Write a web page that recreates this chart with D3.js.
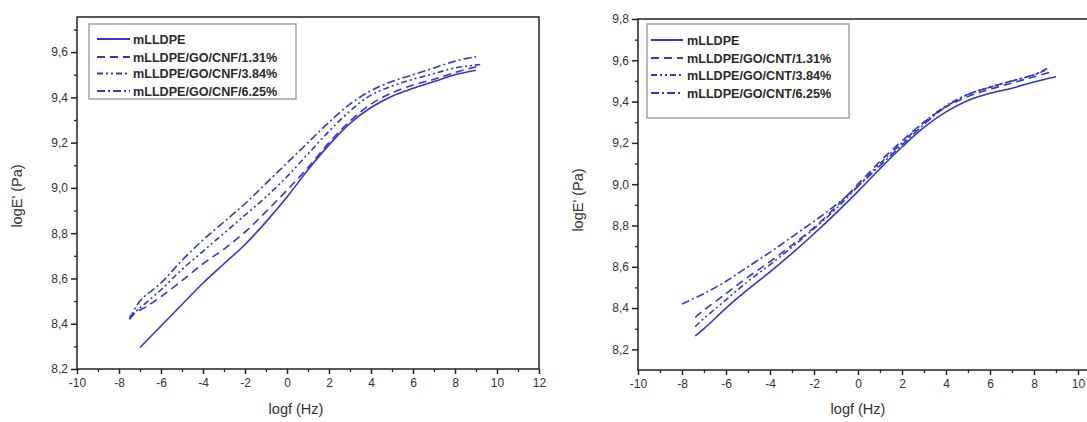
<!DOCTYPE html>
<html><head><meta charset="utf-8">
<script src="https://cdn.jsdelivr.net/npm/d3@7"></script>
<style>
body{margin:0;background:#fff;}
svg{display:block;font-family:"Liberation Sans",Arial,sans-serif;}
.tick text{fill:#333;font-size:12px;}
</style></head><body>
<svg id="c" width="1087" height="422"></svg>
<script>
// ---------- data (logf Hz, logE' Pa) ----------
const xTicks = [-10,-8,-6,-4,-2,0,2,4,6,8,10,12];

// Left panel (GO/CNF)
const cnfNames = ["mLLDPE","mLLDPE/GO/CNF/1.31%","mLLDPE/GO/CNF/3.84%","mLLDPE/GO/CNF/6.25%"];
const cnfX0   = [-7,-6,-5,-4,-3,-2,-1,0,1,2,3,4,5,6,7,8,9];
const cnfY0   = [8.295,8.39,8.485,8.58,8.665,8.75,8.85,8.96,9.08,9.19,9.285,9.355,9.405,9.44,9.47,9.50,9.52];
const cnfX1   = [-7.5,-7.2,-6.7,-6,-5,-4,-3,-2,-1,0,1,2,3,4,5,6,7,8,9.2];
const cnfY1   = [8.42,8.45,8.475,8.52,8.59,8.665,8.73,8.805,8.895,8.99,9.09,9.20,9.295,9.37,9.42,9.455,9.48,9.51,9.54];
const cnfX2   = [-7.5,-7,-6,-5,-4,-3,-2,-1,0,1,2,3,4,5,6,7,8,9.2];
const cnfY2   = [8.43,8.47,8.55,8.64,8.72,8.80,8.88,8.96,9.05,9.15,9.25,9.34,9.41,9.45,9.48,9.505,9.53,9.545];
const cnfX3   = [-7.5,-7,-6,-5,-4,-3,-2,-1,0,1,2,3,4,5,6,7,8,9];
const cnfY3   = [8.42,8.50,8.58,8.68,8.77,8.85,8.93,9.02,9.11,9.20,9.29,9.37,9.43,9.47,9.50,9.53,9.56,9.58];

// Right panel (GO/CNT)
const cntNames = ["mLLDPE","mLLDPE/GO/CNT/1.31%","mLLDPE/GO/CNT/3.84%","mLLDPE/GO/CNT/6.25%"];
const cntX0   = [-7.4,-7,-6,-5,-4,-3,-2,-1,0,1,2,3,4,5,6,7,8,9];
const cntY0   = [8.265,8.30,8.40,8.49,8.575,8.665,8.76,8.86,8.965,9.075,9.18,9.275,9.35,9.405,9.44,9.465,9.495,9.52];
const cntX1   = [-7.4,-7,-6,-5,-4,-3,-2,-1,0,1,2,3,4,5,6,7,8,8.8];
const cntY1   = [8.355,8.39,8.47,8.55,8.625,8.705,8.79,8.89,9.00,9.11,9.21,9.30,9.375,9.425,9.46,9.49,9.52,9.545];
const cntX2   = [-7.4,-7,-6,-5,-4,-3,-2,-1,0,1,2,3,4,5,6,7,8,8.6];
const cntY2   = [8.31,8.35,8.44,8.53,8.61,8.695,8.785,8.88,8.99,9.10,9.20,9.30,9.38,9.435,9.47,9.50,9.53,9.56];
const cntX3   = [-8,-7,-6,-5,-4,-3,-2,-1,0,1,2,3,4,5,6,7,8,8.5];
const cntY3   = [8.42,8.47,8.53,8.60,8.67,8.745,8.82,8.90,8.99,9.09,9.19,9.29,9.375,9.435,9.47,9.50,9.53,9.55];

const leftYTicks  = [8.2,8.4,8.6,8.8,9.0,9.2,9.4,9.6];
const rightYTicks = [8.2,8.4,8.6,8.8,9.0,9.2,9.4,9.6,9.8];

// ---------- drawing ----------
const svg = d3.select("#c");
const W = 1087;
const blue = "#3535d2";
const dashes = [null, "8,5", "6,3,2,3,2,3", "8,3,2,3"];

function panel(o){
  const g = svg.append("g");
  const x = d3.scaleLinear().domain([-10,12]).range([o.x0,o.x1]);
  const y = d3.scaleLinear().domain(o.yDom).range([o.yB,o.yT]);
  const fmt = v => d3.format(".1f")(v).replace(".",",");
  const xfmt = v => String(v);
  const visible = v => x(v) <= W - 4;

  // frame
  g.append("rect").attr("x",o.x0).attr("y",o.yT).attr("width",o.x1-o.x0).attr("height",o.yB-o.yT)
    .attr("fill","none").attr("stroke","#222").attr("stroke-width",1.5);

  // minor ticks
  const xMinor = d3.range(-9,12,2).filter(visible);
  const yMinor = d3.range(Math.round(o.yDom[0]*10)+1, Math.floor(o.yDom[1]*10+1e-6)+1).map(v=>v/10)
        .filter(v=>!o.yTicks.some(t=>Math.abs(t-v)<1e-6));
  g.append("g").attr("transform",`translate(0,${o.yB})`)
    .call(d3.axisBottom(x).tickValues(xMinor).tickSize(3).tickFormat(""))
    .call(a=>a.select(".domain").remove())
    .selectAll("line").attr("stroke","#222").attr("stroke-width",1.3);
  g.append("g").attr("transform",`translate(${o.x0},0)`)
    .call(d3.axisLeft(y).tickValues(yMinor).tickSize(3).tickFormat(""))
    .call(a=>a.select(".domain").remove())
    .selectAll("line").attr("stroke","#222").attr("stroke-width",1.3);

  // major axes
  const ax = g.append("g").attr("transform",`translate(0,${o.yB})`)
    .call(d3.axisBottom(x).tickValues(xTicks.filter(visible)).tickSize(5).tickPadding(4).tickFormat(xfmt));
  ax.select(".domain").remove();
  ax.selectAll("line").attr("stroke","#222").attr("stroke-width",1.5);
  const ay = g.append("g").attr("transform",`translate(${o.x0},0)`)
    .call(d3.axisLeft(y).tickValues(o.yTicks).tickSize(6).tickPadding(3).tickFormat(fmt));
  ay.select(".domain").remove();
  ay.selectAll("line").attr("stroke","#222").attr("stroke-width",1.5);
  g.selectAll(".tick text").attr("font-family","'Liberation Sans',Arial,sans-serif");

  // titles
  g.append("text").attr("x",o.xt).attr("y",414).attr("text-anchor","middle")
    .attr("font-size",14.5).attr("fill","#333").text("logf (Hz)");
  g.append("text").attr("transform",`translate(${o.yl},${o.ylc}) rotate(-90)`).attr("text-anchor","middle")
    .attr("font-size",14.5).attr("fill","#333").text("logE' (Pa)");

  // curves
  const line = d3.line().x(d=>x(d[0])).y(d=>y(d[1])).curve(d3.curveCatmullRom.alpha(0.5));
  o.series.forEach((s,i)=>{
    const pts = s[0].map((v,k)=>[v,s[1][k]]);
    g.append("path").attr("d",line(pts)).attr("fill","none").attr("stroke",blue)
      .attr("stroke-width",1.6).attr("stroke-dasharray",dashes[i]);
  });

  // legend
  const L = o.leg;
  g.append("rect").attr("x",L.x).attr("y",L.y).attr("width",L.w).attr("height",L.h)
    .attr("fill","#fff").attr("stroke","#8a8a8a").attr("stroke-width",1.2);
  o.names.forEach((n,i)=>{
    const yy = L.ys[i];
    g.append("line").attr("x1",L.lx0).attr("x2",L.lx1).attr("y1",yy).attr("y2",yy)
      .attr("stroke",blue).attr("stroke-width",2).attr("stroke-dasharray",dashes[i]);
    g.append("text").attr("x",L.tx).attr("y",yy+4.5).attr("font-size",12.6).attr("font-weight","bold")
      .attr("fill","#2a2a2a").text(n);
  });
}

panel({x0:77,x1:539,yT:17,yB:369,yDom:[8.2,9.755],yTicks:leftYTicks,xt:296,yl:22,ylc:196,
  names:cnfNames,
  series:[[cnfX0,cnfY0],[cnfX1,cnfY1],[cnfX2,cnfY2],[cnfX3,cnfY3]],
  leg:{x:89,y:24,w:207,h:75,ys:[39,57,73.5,91],lx0:97,lx1:130,tx:133}});

panel({x0:638,x1:1122,yT:19,yB:370,yDom:[8.1,9.8],yTicks:rightYTicks,xt:858,yl:583,ylc:200,
  names:cntNames,
  series:[[cntX0,cntY0],[cntX1,cntY1],[cntX2,cntY2],[cntX3,cntY3]],
  leg:{x:647,y:24,w:202,h:94,ys:[40,58,75,93],lx0:651,lx1:683,tx:687}});
</script>
</body></html>
